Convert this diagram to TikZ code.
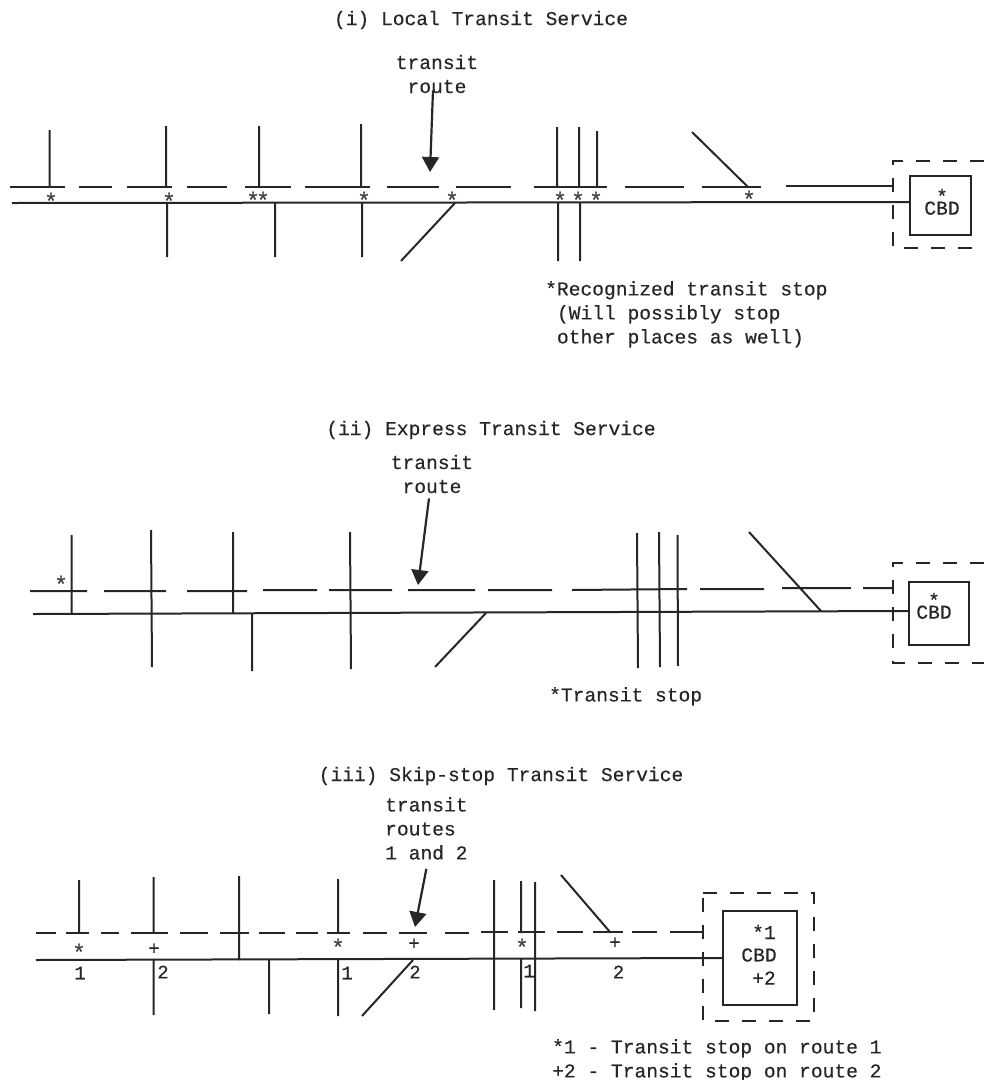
\documentclass[tikz,border=0pt]{standalone}
\usepackage{fontspec}
\setmainfont[FakeBold=0.35]{Liberation Mono}
\usetikzlibrary{positioning,arrows.meta}

\begin{document}
\begin{tikzpicture}[
    x=1pt, y=-1pt,
    >=Stealth,
    font=\fontsize{19.6}{24}\selectfont,
    every node/.style={inner sep=0pt, text=black!85},
    road/.style={draw=black!85, line width=2pt},
    cbdbox/.style={draw=black!85, line width=2pt, fill=white},
    cbdzone/.style={draw=black!85, line width=2.2pt, dash pattern=on 14pt off 13pt},
    routearrow/.style={-{Triangle[length=15pt,width=17pt]}, draw=black!85, line width=2.2pt},
    notetext/.style={align=left, anchor=north west},
    stoptext/.style={font=\fontsize{23}{24}\selectfont, text=black!75},
    numtext/.style={font=\fontsize{19}{24}\selectfont}
]

    \useasboundingbox (0,0) rectangle (984,1080);

    \node (titleA) at (481,20) {(i) Local Transit Service};
    \node[align=center] (labelA) at (437,74) {transit\\route};
    \coordinate (tipA) at (430,172);
    \draw[routearrow] ([xshift=-4pt,yshift=3pt]labelA.south) -- (tipA);

    \draw[road]
        (10,187) -- (65,187) (79,187) -- (112,187) (127,187) -- (172,187)
        (187,187) -- (227,187) (245,187) -- (291,187) (305,187) -- (370,187)
        (387,187) -- (439,187) (456,187) -- (511,187) (534,187) -- (607,187)
        (625,187) -- (684,187) (702,187) -- (761,187) (786,186) -- (893,186);
    \draw[road]
        (49.5,130) -- (49.5,187) (166,126) -- (166,187) (259,126) -- (259,187)
        (361,124) -- (361,187) (557,127) -- (557,187) (579,127) -- (579,187)
        (597,131) -- (597,187) (692,132) -- (748,187);
    \draw[road]
        (167,203) -- (167,257) (275,203) -- (275,257) (362,203) -- (362,257)
        (455,203) -- (401,261) (558,203) -- (558,261) (580,203) -- (580,261);

    \node[cbdbox, minimum width=61pt, minimum height=59pt] (cbdA) at (940.5,205.5) {};
    \draw[road] (12,203) -- (cbdA.west |- 0,202);
    \draw[cbdzone] (984,161) -- (893,161) -- (893,248) -- (984,248);
    \node[align=center, anchor=south] (cbdnameA) at (942,215) {*\\[-12.5pt]CBD};

    \node[stoptext] (stopA1) at (51,201) {*};
    \node[stoptext] (stopA2) at (169,201) {*};
    \node[stoptext] (stopA3) at (253,200) {*};
    \node[stoptext] (stopA4) at (263,200) {*};
    \node[stoptext] (stopA5) at (364,200) {*};
    \node[stoptext] (stopA6) at (452,200) {*};
    \node[stoptext] (stopA7) at (560,200) {*};
    \node[stoptext] (stopA8) at (578,200) {*};
    \node[stoptext] (stopA9) at (596,200) {*};
    \node[stoptext] (stopA10) at (749,199) {*};

    \node[notetext] (noteA) at (545,281) {*Recognized transit stop\\~(Will possibly stop\\~other places as well)};

    \node (titleB) at (491,430) {(ii) Express Transit Service};
    \node[align=center] (labelB) at (432,474) {transit\\route};
    \coordinate (tipB) at (418,585);
    \draw[routearrow] ([xshift=-3pt,yshift=-5pt]labelB.south) -- (tipB);

    \draw[road]
        (30,591) -- (87,591) (104,591) -- (166,591) (187,591) -- (247,591)
        (263,590) -- (317,590) (329,590) -- (392,590) (408,590) -- (475,590)
        (488,590) -- (552,590) (572,590) -- (687,589) (700,589) -- (764,589)
        (782,588) -- (851,588) (863,588) -- (892,588);
    \draw[road]
        (71.5,535) -- (71.5,614) (151,530) -- (152,667) (233,532) -- (233,613)
        (252,614) -- (252,671) (350,532) -- (351,669) (486,613) -- (435,667)
        (637,533) -- (638,668) (659,532) -- (660,667) (677.5,535) -- (678,666)
        (749,532) -- (821,611);

    \node[cbdbox, minimum width=60pt, minimum height=63pt] (cbdB) at (939,613.5) {};
    \draw[road] (33,614) -- (cbdB.west |- 0,611);
    \draw[cbdzone] (984,563) -- (893,563) -- (893,663) -- (984,663);
    \node[align=center, anchor=south] (cbdnameB) at (934,619) {*\\[-12.5pt]CBD};

    \node[stoptext] (stopB1) at (61,584) {*};

    \node[notetext] (noteB) at (549,687) {*Transit stop};

    \node (titleC) at (501,776) {(iii) Skip-stop Transit Service};
    \node[notetext] (labelC) at (385,797) {transit\\routes\\1 and 2};
    \coordinate (tipC) at (415,927);
    \draw[routearrow] ([yshift=-9pt]labelC.south) -- (tipC);

    \draw[road]
        (36,933) -- (56,933) (66,933) -- (89,933) (101,933) -- (119,933)
        (131,933) -- (168,933) (180,933) -- (208,933) (220,933) -- (249,933)
        (259,933) -- (285,933) (296,933) -- (318,933) (327,933) -- (350,933)
        (363,933) -- (387,933) (399,933) -- (427,933) (445,933) -- (469,933)
        (481,932) -- (508,932) (518,932) -- (545,932) (557,932) -- (583,932)
        (593,932) -- (623,932) (632,932) -- (657,932) (670,932) -- (703,932);
    \draw[road]
        (79,880) -- (79,933) (153.5,877) -- (153.5,933) (239,876) -- (239,960)
        (338,879) -- (338,933) (521,881) -- (521,933) (561,875) -- (610,932);
    \draw[road]
        (153.5,960) -- (153.5,1015) (269,960) -- (269,1014) (338,960) -- (338,1016)
        (413,960) -- (362,1016) (494,880) -- (494,1010) (521,959) -- (521,1008)
        (535,882) -- (535,1011);

    \node[cbdbox, minimum width=74pt, minimum height=94pt] (cbdC) at (760,958) {};
    \draw[road] (36,960) -- (cbdC.west |- 0,958);
    \draw[cbdzone] (703,893) -- (814,893) -- (814,1021) -- (703,1021) -- cycle;
    \node (cbdstopC) at (764,932) {*1};
    \node (cbdnameC) at (759,955) {CBD};
    \node (cbdplusC) at (764,978) {+2};

    \node[stoptext] (stopC1) at (79,952) {*};
    \node[numtext] (stopC2) at (154,949) {+};
    \node[stoptext] (stopC3) at (338,947) {*};
    \node[numtext] (stopC4) at (414,944) {+};
    \node[stoptext] (stopC5) at (522,947) {*};
    \node[numtext] (stopC6) at (615,943) {+};

    \node[numtext] (routeC1) at (80,973) {1};
    \node[numtext] (routeC2) at (163,972) {2};
    \node[numtext] (routeC3) at (347,973) {1};
    \node[numtext] (routeC4) at (415,972) {2};
    \node[numtext] (routeC5) at (529,971) {1};
    \node[numtext] (routeC6) at (618.5,972) {2};

    \node[notetext] (noteC) at (552,1039) {*1 - Transit stop on route 1\\+2 - Transit stop on route 2};

\end{tikzpicture}
\end{document}
